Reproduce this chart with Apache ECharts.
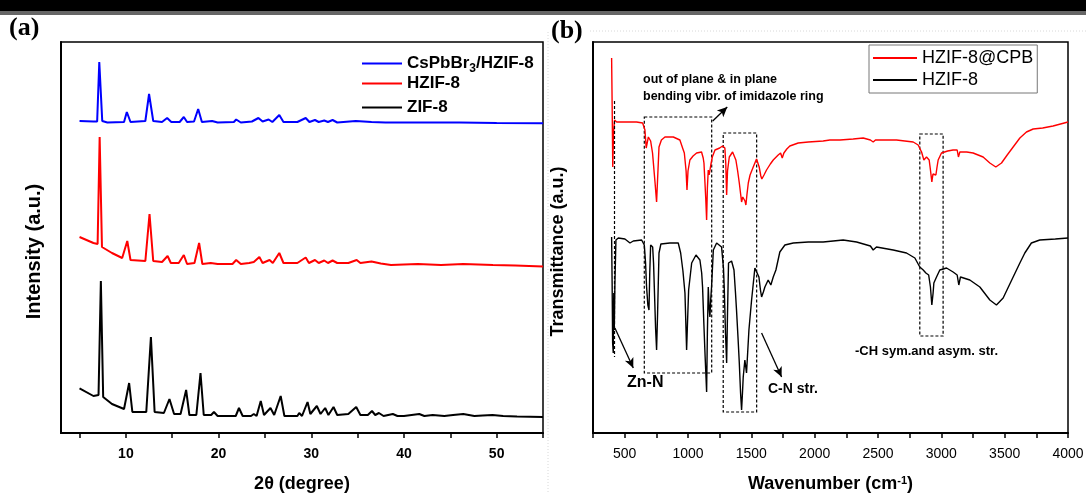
<!DOCTYPE html>
<html lang="en">
<head>
  <meta charset="UTF-8">
  <title>XRD and FTIR</title>
  <style>
    html,body{margin:0;padding:0;background:#fff;}
    #main{width:1086px;height:493px;}
  </style>
</head>
<body>
  <div id="main"></div>
  <script src="https://cdn.jsdelivr.net/npm/echarts@6/dist/echarts.min.js"></script>
  <script>
    // (a) XRD patterns, [2theta, intensity a.u.]
    const zif8=[[5.0,44.7],[6.5,37],[7.05,38],[7.3,152],[7.55,36],[8.5,29],[9.8,24],[10.35,50],[10.7,21],[12.2,21],[12.7,96],[13.1,21],[14.1,20],[14.7,34],[15.2,19],[15.9,19],[16.5,43],[16.85,18],[17.6,18],[18.05,60],[18.4,18],[19.2,18],[19.5,21],[19.9,17],[21.85,17],[22.2,25],[22.6,17],[23.5,17],[23.8,19],[24.1,17],[24.55,32],[24.9,18],[25.6,25],[26.0,18],[26.7,37],[27.1,17],[28.5,17],[28.7,20],[29.0,17],[29.6,31],[29.9,19],[30.6,27],[31.0,19],[31.5,25],[31.85,18],[32.4,26],[32.8,18],[34.0,19],[34.85,26],[35.3,18],[36.1,18],[36.55,22],[36.9,18],[37.3,20],[37.8,17],[38.8,19],[39.3,17],[40.0,17],[41.65,19],[42.2,17],[43.1,18],[44.35,17],[45.3,18],[46.4,19],[47.6,17],[48.5,17.5],[49.55,18],[50.7,17],[52.2,16.5],[55,16]];
    const hzif8=[[5.0,196],[6.5,190],[6.95,189],[7.17,296],[7.42,186],[8.5,180],[9.6,175],[10.15,192],[10.5,173],[12.1,172],[12.55,219],[12.95,172],[13.9,171],[14.5,177],[14.85,170],[15.7,170],[16.25,178],[16.6,169],[17.4,170],[17.9,190],[18.25,169],[19.15,170],[19.3,171.5],[19.9,169],[21.5,169],[21.9,173],[22.4,169],[23.3,170],[23.8,171],[24.0,169.5],[24.4,176],[24.75,170],[25.5,173],[25.85,170],[26.55,180],[27.0,170],[28.5,170],[29.4,175.5],[29.75,170],[30.4,173],[30.8,170],[31.4,172.5],[31.8,170],[32.3,172.5],[32.8,170],[34.0,170],[34.9,173],[35.3,170],[36.5,171.5],[37.5,169.5],[38.6,168],[40,168.5],[41.5,169],[44.0,168],[46.4,169],[49.6,168],[52.0,167.5],[55,166.5]];
    const cspb=[[5.0,312],[6.5,311.5],[6.9,311.5],[7.13,371],[7.45,312],[8.0,310.5],[9.8,311],[10.1,321],[10.5,311],[12.1,312],[12.5,339],[12.95,312],[13.9,311],[14.45,315],[14.9,311],[15.8,311],[16.25,316],[16.6,311],[17.35,311.5],[17.8,324],[18.2,311],[19.3,312],[19.9,310.5],[21.65,311],[21.9,313.5],[22.4,310.5],[23.6,311.5],[24.3,315],[24.75,311.5],[25.4,313.5],[25.8,311],[26.55,318],[27.0,311],[28.5,311],[29.4,315],[29.8,311],[30.4,313],[30.8,311],[31.4,312.5],[31.8,311],[32.3,313],[32.8,310.5],[34.8,312],[36.5,311],[38,310.5],[42,310.5],[46,310.5],[50,310],[55,309.7]];
    const xrdTicks=[5,10,15,20,25,30,35,40,45,50,55];
    const xrdLabels=[10,20,30,40,50];

    // (b) FTIR spectra, [wavenumber, transmittance a.u.]
    const ftirCpb=[[397,375],[401,330],[406,266],[412,300],[420,313],[437,311],[489,311],[594,311],[642,310],[660,303],[670,285],[679,283],[687,296],[695,296],[705,292],[720,280],[740,250],[752,231],[762,260],[771,286],[790,293],[818,296],[884,296],[936,293],[960,284],[971,280],[985,262],[992,243],[1000,262],[1015,273],[1040,277],[1068,280],[1107,281],[1120,275],[1126,270],[1140,235],[1147,213],[1153,245],[1160,263],[1167,258],[1173,256],[1180,268],[1192,276],[1213,283],[1250,285],[1273,287],[1291,285],[1298,270],[1305,238],[1312,262],[1326,276],[1352,281],[1365,279],[1378,273],[1392,262],[1405,250],[1423,231],[1432,236],[1441,235],[1450,232],[1457,228],[1465,238],[1476,250],[1490,258],[1515,266],[1541,274],[1550,272],[1562,266],[1575,257],[1583,254],[1600,258],[1620,263],[1650,269],[1673,273],[1712,278],[1731,280],[1744,275],[1757,280],[1780,284],[1804,287],[1870,290],[1950,291],[2067,292],[2120,293],[2200,293],[2304,294],[2383,295],[2440,293],[2462,291],[2480,293],[2502,293],[2646,293],[2778,291],[2817,288],[2844,281],[2862,273],[2883,276],[2904,273],[2915,262],[2925,251],[2934,259],[2941,261],[2949,258],[2957,258],[2966,266],[2975,273],[3001,280],[3050,282],[3093,283],[3125,283],[3135,276],[3146,281],[3200,281],[3251,280],[3330,276],[3383,270],[3430,266],[3475,270],[3520,278],[3567,286],[3620,295],[3672,301],[3725,304],[3800,305],[3882,307],[4000,311]];
    const ftirH=[[397,196],[401,150],[405,90],[410,80],[414,140],[418,103],[423,150],[431,193],[450,195],[502,194],[542,190],[568,192],[634,193],[655,188],[665,170],[673,146],[683,128],[692,123],[698,160],[705,188],[721,186],[728,170],[734,146],[744,105],[752,83],[760,120],[771,180],[786,189],[857,190],[923,190],[942,180],[960,162],[976,140],[989,83],[996,110],[1005,143],[1029,170],[1063,178],[1094,173],[1108,160],[1115,146],[1125,110],[1134,80],[1147,41],[1153,100],[1160,146],[1167,125],[1173,116],[1180,135],[1186,146],[1200,183],[1226,190],[1265,186],[1280,165],[1286,146],[1296,100],[1305,70],[1312,120],[1320,170],[1344,172],[1363,163],[1375,140],[1383,123],[1395,95],[1405,70],[1415,40],[1423,23],[1430,40],[1436,56],[1449,73],[1462,60],[1481,103],[1502,133],[1528,165],[1541,166],[1560,156],[1572,143],[1581,136],[1595,141],[1607,146],[1633,153],[1654,148],[1673,156],[1694,163],[1725,181],[1765,188],[1831,190],[1950,191],[2067,191],[2225,193],[2331,191],[2440,187],[2462,183],[2488,186],[2620,183],[2725,180],[2791,175],[2830,166],[2857,163],[2878,160],[2900,158],[2914,146],[2925,128],[2935,140],[2941,150],[2962,156],[2988,163],[3041,165],[3093,161],[3125,158],[3138,148],[3151,156],[3225,153],[3304,146],[3383,133],[3435,128],[3488,135],[3567,156],[3620,170],[3659,180],[3711,190],[3777,193],[3900,194],[4000,195]];
    const ftirTicks=[250,500,750,1000,1250,1500,1750,2000,2250,2500,2750,3000,3250,3500,3750,4000];
    const ftirLabels=[500,1000,1500,2000,2500,3000,3500,4000];

    // annotation boxes [x1,y1,x2,y2], arrows [[from],[to]]
    const boxes=[[655,316,1187,60],[1278,300,1542,21],[2830,299,3014,97]];
    const znLine=[[415,332],[415,76]];
    const arrows=[[[423,105],[568,65]],[[1195,312],[1310,326]],[[1581,100],[1739,56]]];

    const chart=echarts.init(document.getElementById('main'));
    const font='"Liberation Sans", Arial, sans-serif';

    function xAxisOf(gi,min,max,ticks,labels,bold,name){
      return {
        type:'value',gridIndex:gi,min:min,max:max,
        name:name,nameLocation:'middle',nameGap:42,
        nameTextStyle:{fontSize:18,fontWeight:'bold',color:'#000',fontFamily:font,
          rich:{sup:{fontSize:11,fontWeight:'bold',verticalAlign:'top',padding:[0,0,6,0]}}},
        axisLine:{lineStyle:{color:'#000',width:2}},
        axisTick:{show:true,inside:false,length:5,customValues:ticks,lineStyle:{color:'#000',width:1.5}},
        axisLabel:{customValues:labels,margin:14,fontSize:14,fontWeight:bold?'bold':'normal',color:'#000',fontFamily:font,
          formatter:v=>String(v)},
        splitLine:{show:false}
      };
    }
    function yAxisOf(gi,name,gap,size){
      return {
        type:'value',gridIndex:gi,min:0,max:391,
        name:name,nameLocation:'middle',nameGap:gap,
        nameTextStyle:{fontSize:size,fontWeight:'bold',color:'#000',fontFamily:font,padding:[0,28,0,0]},
        axisLine:{show:true,lineStyle:{color:'#000',width:2}},
        axisTick:{show:false},axisLabel:{show:false},splitLine:{show:false}
      };
    }
    function line(name,data,color,xi,width){
      return {name:name,type:'line',xAxisIndex:xi,yAxisIndex:xi,data:data,
        symbol:'none',showSymbol:false,smooth:false,
        lineStyle:{color:color,width:width},itemStyle:{color:color},
        emphasis:{disabled:true},z:3};
    }

    const ftirBlack=line('HZIF-8',ftirH,'#000',1,1.4);
    ftirBlack.markArea={silent:true,
      itemStyle:{color:'rgba(0,0,0,0)',borderColor:'#000',borderWidth:1.2,borderType:[3,2]},
      data:boxes.map(b=>[{coord:[b[0],b[1]]},{coord:[b[2],b[3]]}])};
    ftirBlack.markLine={silent:true,animation:false,label:{show:false},
      data:[
        [{coord:znLine[0],symbol:'none',lineStyle:{type:[3,2],width:1.2,color:'#000'}},{coord:znLine[1],symbol:'none'}]
      ].concat(arrows.map(a=>[{coord:a[0],symbol:'none',lineStyle:{type:'solid',width:1.3,color:'#000'}},{coord:a[1],symbol:'arrow',symbolSize:[7,10]}]))};

    const legA={left:362,padding:0,itemWidth:40,itemHeight:2,icon:'rect',
      textStyle:{fontSize:17,fontWeight:'bold',color:'#000',fontFamily:font}};

    const option={
      animation:false,
      textStyle:{fontFamily:font},
      grid:[
        {left:61,top:42,width:482,height:391,show:true,borderColor:'#000',borderWidth:1.5,outerBoundsMode:'none',containLabel:false},
        {left:593,top:42,width:475,height:391,show:true,borderColor:'#000',borderWidth:1.5,outerBoundsMode:'none',containLabel:false}
      ],
      xAxis:[
        xAxisOf(0,3,55,xrdTicks,xrdLabels,true,'2θ (degree)'),
        xAxisOf(1,250,4000,ftirTicks,ftirLabels,false,'Wavenumber (cm{sup|-1})')
      ],
      yAxis:[
        yAxisOf(0,'Intensity (a.u.)',17,20),
        yAxisOf(1,'Transmittance (a.u.)',26,18)
      ],
      legend:[
        Object.assign({},legA,{data:['CsPbBr3/HZIF-8'],top:55,
          formatter:()=>'CsPbBr{sub|3}/HZIF-8',
          textStyle:Object.assign({},legA.textStyle,{
            rich:{sub:{fontSize:12,fontWeight:'bold',verticalAlign:'bottom',padding:[10,0,0,0]}}})}),
        Object.assign({},legA,{data:['HZIF-8 '],top:75,formatter:()=>'HZIF-8'}),
        Object.assign({},legA,{data:['ZIF-8'],top:99}),
        {data:['HZIF-8@CPB','HZIF-8'],orient:'vertical',left:869,top:45,icon:'rect',
          itemWidth:44,itemHeight:2,itemGap:4,padding:[4,4,4,4],
          borderColor:'#777',borderWidth:1,backgroundColor:'#fff',
          textStyle:{fontSize:18,color:'#000',fontFamily:font}}
      ],
      series:[
        line('ZIF-8',zif8,'#000',0,2),
        line('HZIF-8 ',hzif8,'#ff0000',0,2),
        line('CsPbBr3/HZIF-8',cspb,'#0000ff',0,2),
        line('HZIF-8@CPB',ftirCpb,'#ff0000',1,1.4),
        ftirBlack
      ],
      graphic:[
        {type:'rect',shape:{x:0,y:0,width:1086,height:11},style:{fill:'#000'},silent:true},
        {type:'rect',shape:{x:0,y:11,width:1086,height:4},style:{fill:'#666'},silent:true},
        {type:'line',shape:{x1:548,y1:32,x2:548,y2:493},style:{stroke:'#d8d8d8',lineWidth:1,lineDash:[1,2]},silent:true},
        {type:'line',shape:{x1:590,y1:31,x2:1086,y2:31},style:{stroke:'#d8d8d8',lineWidth:1,lineDash:[1,2]},silent:true},
        {type:'text',left:9,top:15,style:{text:'(a)',font:'bold 26px "Liberation Serif", "Times New Roman", serif',fill:'#000'}},
        {type:'text',left:551,top:18,style:{text:'(b)',font:'bold 26px "Liberation Serif", "Times New Roman", serif',fill:'#000'}},
        {type:'text',left:643,top:73,style:{text:'out of plane & in plane',font:'bold 12.5px '+font,fill:'#000'}},
        {type:'text',left:643,top:90,style:{text:'bending vibr. of imidazole ring',font:'bold 12.5px '+font,fill:'#000'}},
        {type:'text',left:627,top:375,style:{text:'Zn-N',font:'bold 16px '+font,fill:'#000'}},
        {type:'text',left:768,top:382,style:{text:'C-N str.',font:'bold 14px '+font,fill:'#000'}},
        {type:'text',left:855,top:345,style:{text:'-CH sym.and asym. str.',font:'bold 13px '+font,fill:'#000'}}
      ]
    };
    chart.setOption(option);
  </script>
</body>
</html>
